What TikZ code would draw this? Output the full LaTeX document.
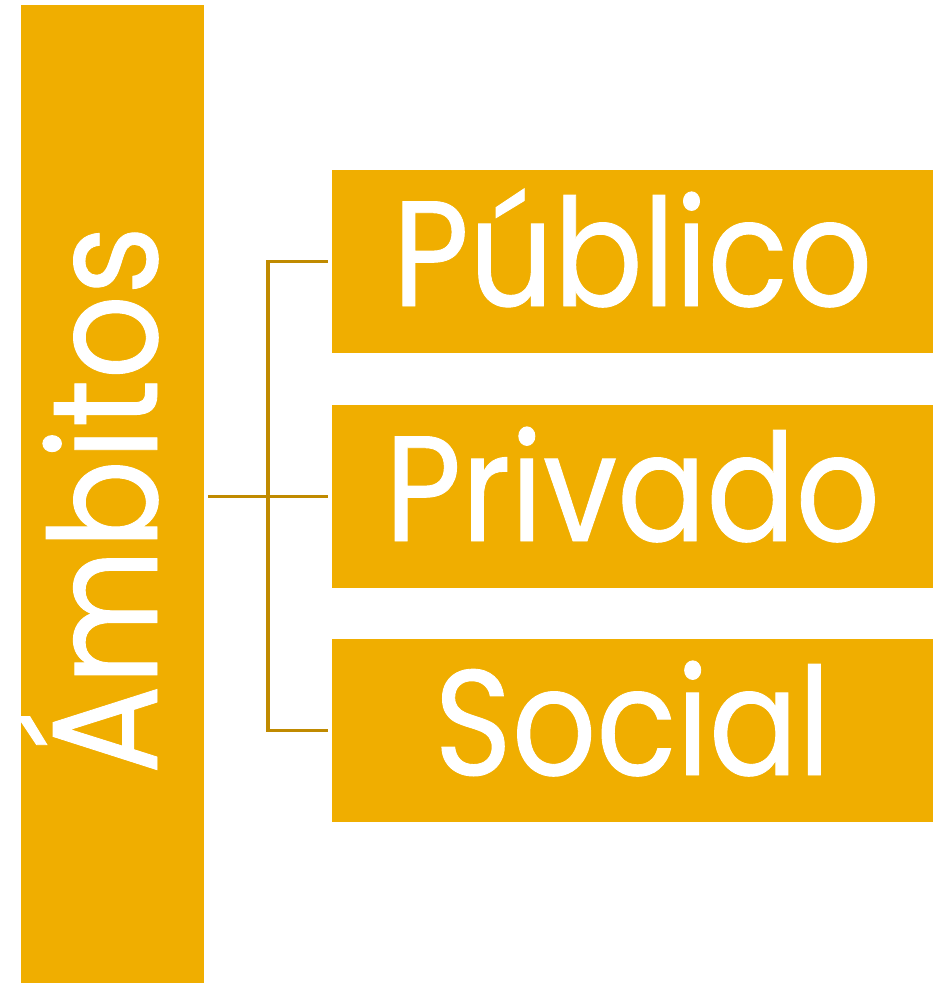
\documentclass[tikz,border=0pt]{standalone}
\usepackage{fontspec}
\newfontfamily\geofont[FakeStretch=0.88,FakeBold=0.6]{Poppins}
\definecolor{boxgold}{RGB}{240,174,0}
\definecolor{linegold}{RGB}{192,138,0}
\begin{document}
\begin{tikzpicture}[x=1pt,y=-1pt,
  bigbox/.style={fill=boxgold, draw=none, inner sep=0pt, minimum width=601pt, minimum height=183pt,
    text=white, font=\geofont\fontsize{150}{150}\selectfont, text height=136pt, text depth=47pt},
  conn/.style={draw=linegold, line width=3.5pt}]
\useasboundingbox (0,0) rectangle (933,983);
\fill[boxgold] (21,5) rectangle (204,983);
\node[inner sep=0pt, minimum width=183pt, minimum height=978pt] (bar) at (112.5,494) {};
\node[anchor=base, rotate=90, text=white, inner sep=0pt, font=\geofont\fontsize{150}{150}\selectfont] (ambitos) at (157,500) {Ámbitos};
\node[bigbox] (publico) at (632.5,261.5) {Público};
\node[bigbox] (privado) at (632.5,496.5) {Privado};
\node[bigbox] (social) at (632.5,730.5) {Social};
\coordinate (j) at (268,496.5);
\draw[conn, shorten <=4pt, shorten >=4pt] (bar.east |- privado.west) -- (privado.west);
\draw[conn, shorten <=4pt, shorten >=4pt] (publico.west) -| (j |- social.west) -- (social.west);
\end{tikzpicture}
\end{document}
